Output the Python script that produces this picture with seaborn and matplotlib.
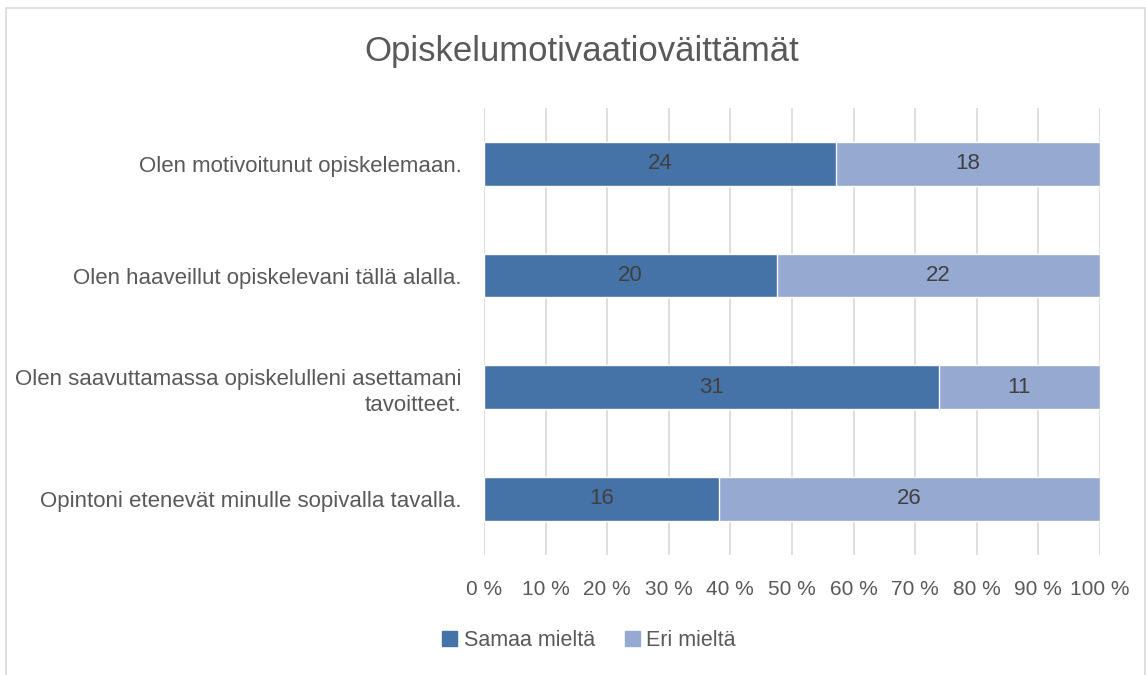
import pandas as pd
import seaborn as sns
import matplotlib.pyplot as plt
from matplotlib.patches import Rectangle, Patch

# Data (counts, 42 respondents)
statements = [
    "Olen motivoitunut opiskelemaan.",
    "Olen haaveillut opiskelevani tällä alalla.",
    "Olen saavuttamassa opiskelulleni asettamani\ntavoitteet.",
    "Opintoni etenevät minulle sopivalla tavalla.",
]
samaa = [24, 20, 31, 16]
eri = [18, 22, 11, 26]
series_names = ["Samaa mieltä", "Eri mieltä"]
dark_blue = "#4572A7"
light_blue = "#95A9D1"

df = pd.DataFrame({"statement": statements, "samaa": samaa, "eri": eri})
df["total"] = df["samaa"] + df["eri"]
df["samaa_pct"] = df["samaa"] / df["total"] * 100
df["full_pct"] = 100.0

sns.set_style("white")
plt.rcParams["font.family"] = ["Liberation Sans", "DejaVu Sans"]

fig = plt.figure(figsize=(11.46, 6.75), dpi=100)
ax = fig.add_axes([0.4223, 0.178, 0.5375, 0.662])

# light bar spans whole row, dark bar on top of it
sns.barplot(data=df, y="statement", x="full_pct", color=light_blue, orient="h",
            width=0.39, ax=ax, saturation=1, zorder=2)
sns.barplot(data=df, y="statement", x="samaa_pct", color=dark_blue, orient="h",
            width=0.39, ax=ax, saturation=1, zorder=3)

# value labels in the middle of each segment
for i, row in df.iterrows():
    ax.text(row["samaa_pct"] / 2, i, str(row["samaa"]), ha="center", va="center",
            fontsize=16, color="#404040", zorder=4)
    ax.text(row["samaa_pct"] + (100 - row["samaa_pct"]) / 2, i, str(row["eri"]),
            ha="center", va="center", fontsize=16, color="#404040", zorder=4)

ax.set_xlim(0, 100)
ax.set_ylim(3.5, -0.5)
ax.set_xticks(range(0, 101, 10))
ax.set_xticklabels([f"{v} %" for v in range(0, 101, 10)], fontsize=15, color="#595959")
ax.tick_params(axis="y", labelsize=16, labelcolor="#595959", length=0, pad=16)
ax.tick_params(axis="x", length=0, pad=18)
for lbl in ax.get_yticklabels():
    lbl.set_linespacing(1.35)
ax.xaxis.grid(True, color="#D9D9D9", linewidth=1.2, zorder=0)
ax.set_axisbelow(True)
ax.set_xlabel("")
ax.set_ylabel("")
for s in ax.spines.values():
    s.set_visible(False)

fig.text(0.508, 0.923, "Opiskelumotivaatioväittämät", ha="center", va="center",
         fontsize=25, color="#595959")

handles = [Patch(color=dark_blue), Patch(color=light_blue)]
fig.legend(handles, series_names, loc="center", bbox_to_anchor=(0.514, 0.051),
           ncol=2, frameon=False, fontsize=15.5, handlelength=0.7, handleheight=0.7,
           handletextpad=0.3, columnspacing=1.4, labelcolor="#595959")

# thin chart border
fig.patches.append(Rectangle((0.005, -0.01), 0.994, 0.998, transform=fig.transFigure,
                             fill=False, edgecolor="#D9D9D9", linewidth=1.2))

fig.savefig("out.png", dpi=100)
